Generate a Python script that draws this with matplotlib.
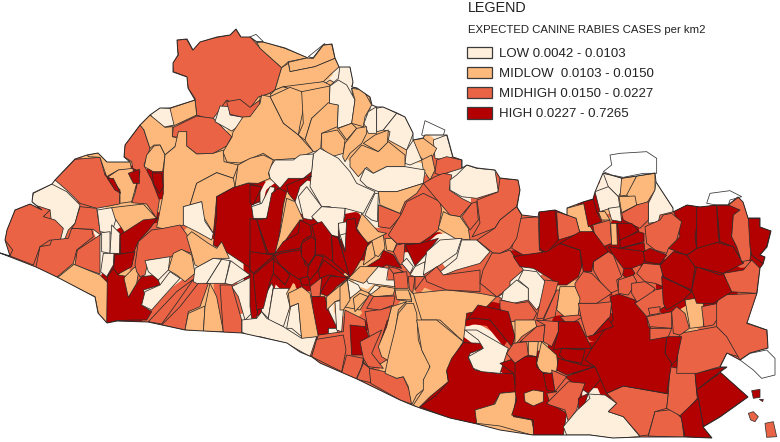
import matplotlib
matplotlib.use("Agg")
import matplotlib.pyplot as plt
from matplotlib.patches import Polygon, Patch

plt.rcParams['font.family'] = ['Liberation Sans', 'DejaVu Sans']

CLASS_COLORS = {"L": "#feefdc", "ML": "#fdb97c", "MH": "#ea6344", "H": "#b30000", "N": "#ffffff"}
CLASS_LABELS = ["LOW 0.0042 - 0.0103", "MIDLOW  0.0103 - 0.0150", "MIDHIGH 0.0150 - 0.0227", "HIGH 0.0227 - 0.7265"]
LEGEND_TITLE = "LEGEND"
LEGEND_SUB = "EXPECTED CANINE RABIES CASES per km2"

COUNTRY_OUTLINE = [(0,253),(10,256),(5,240),(7,230),(15,210),(30,204),(42,210),(32,202),(33,193),(52,184),(55,180),(75,159),(87,155),(98,153),(107,162),(130,162),(124,157),(125,145),(140,125),(150,115),(160,108),(170,108),(195,100),(188,88),(187,77),(173,72),(173,63),(178,55),(177,40),(187,39),(193,50),(200,42),(217,37),(230,35),(236,29),(241,37),(250,37),(257,42),(263,42),(285,48),(308,58),(313,58),(323,45),(332,44),(335,58),(339,67),(350,67),(353,82),(352,87),(357,88),(370,97),(372,105),(377,107),(383,107),(397,113),(405,117),(413,133),(413,140),(423,138),(425,135),(447,135),(453,157),(462,160),(462,168),(467,165),(477,168),(495,170),(500,178),(518,180),(520,190),(517,207),(522,215),(538,217),(539,212),(555,210),(567,215),(567,208),(583,202),(593,199),(595,192),(603,173),(622,178),(637,176),(655,173),(656,182),(673,208),(673,212),(687,205),(700,207),(717,205),(728,205),(738,197),(743,202),(748,218),(760,218),(760,227),(771,231),(767,247),(760,255),(765,257),(763,264),(760,268),(757,293),(747,323),(767,330),(768,348),(750,353),(740,360),(727,353),(720,367),(727,367),(720,372),(748,397),(720,417),(703,427),(712,438),(685,437),(640,437),(613,438),(590,435),(533,435),(500,430),(477,424),(450,418),(420,408),(412,405),(400,400),(357,379),(320,363),(312,357),(300,352),(287,343),(260,337),(242,333),(223,332),(185,330),(162,325),(148,322),(117,321),(107,323),(98,313),(95,297),(57,277),(36,267)]

# municipality outlines, in tracing units (3 per pixel) per map sector
WEST_ORIGIN = (0, 20)
WEST = [
("MH",[(530,60),(560,58),(578,90),(600,65),(650,52),(690,45),(708,28),(722,50),(750,50),(780,84),(845,143),(825,210),(805,222),(775,231),(750,265),(700,250),(680,240),(640,295),(620,295),(590,285),(585,235),(565,205),(560,170),(520,155),(518,128),(535,105)]),
("ML",[(450,285),(510,265),(585,240),(590,285),(520,318),(495,322)]),
("L",[(450,282),(480,263),(510,265),(522,315),(490,322),(465,305)]),
("MH",[(520,322),(590,288),(640,295),(695,350),(680,378),(640,400),(590,402),(560,378),(560,335),(535,352),(517,350)]),
("L",[(660,258),(690,260),(690,285),(730,292),(720,315),(695,333),(645,305)]),
("MH",[(680,245),(720,238),(750,262),(780,240),(780,265),(770,290),(730,292),(690,283)]),
("MH",[(420,315),(375,375),(372,410),(395,425),(398,445),(420,455),(405,520),(395,548),(440,552),(470,595),(478,540),(455,480),(432,435),(450,385),(430,325)]),
("ML",[(420,315),(450,285),(495,322),(517,320),(517,350),(535,355),(525,380),(495,405),(480,375),(462,375),(450,385),(432,330)]),
("ML",[(462,378),(480,375),(495,405),(488,455),(460,455),(433,440),(440,405)]),
("ML",[(535,335),(560,335),(560,378),(590,402),(640,400),(670,390),(672,425),(715,435),(700,475),(650,458),(590,490),(570,555),(550,560),(550,615),(510,630),(470,622),(490,520),(490,460),(495,405),(525,380)]),
("ML",[(590,490),(650,458),(700,475),(705,500),(650,530),(645,590),(640,640),(610,590),(605,545),(570,555)]),
("L",[(550,560),(605,545),(615,605),(640,640),(635,660),(590,635),(550,615)]),
("H",[(650,530),(705,500),(745,490),(780,500),(780,735),(760,750),(685,700),(640,675),(650,590)]),
("L",[(755,555),(780,545),(780,595),(760,590)]),
("MH",[(165,480),(225,418),(300,412),(315,465),(360,520),(358,552),(290,565),(240,550),(200,510)]),
("ML",[(262,405),(295,398),(320,425),(390,425),(395,450),(355,450),(320,470),(300,412),(265,410)]),
("ML",[(355,450),(398,445),(410,490),(395,545),(360,550),(360,510),(325,470)]),
("H",[(322,475),(340,475),(362,520),(345,510)]),
("H",[(385,460),(418,448),(418,490),(400,490)]),
("H",[(457,458),(485,460),(490,500),(478,520),(460,490)]),
("L",[(95,545),(100,520),(155,492),(200,515),(240,555),(225,610),(205,630),(190,668),(175,665),(155,610),(150,570),(125,570)]),
("MH",[(20,630),(45,570),(90,552),(120,560),(150,570),(130,590),(165,600),(190,625),(180,665),(150,660),(120,680),(100,735),(30,708),(38,690),(15,660)]),
("MH",[(108,740),(120,680),(150,675),(155,660),(205,655),(215,625),(275,628),(280,650),(230,690),(220,730),(170,772),(110,745)]),
("MH",[(240,560),(290,565),(302,645),(280,628),(215,625),(225,610)]),
("MH",[(300,645),(300,762),(265,750),(225,735),(232,690)]),
("ML",[(170,775),(222,733),(300,765),(325,790),(350,800),(320,910),(295,880),(285,830)]),
("L",[(292,570),(335,563),(350,590),(335,640),(300,635)]),
("ML",[(335,563),(430,552),(470,595),(420,610),(375,640),(345,595)]),
("L",[(305,638),(330,635),(330,700),(305,695)]),
("L",[(335,615),(360,640),(358,700),(330,700)]),
("L",[(310,700),(342,700),(340,735),(320,770),(302,755)]),
("H",[(360,645),(430,600),(472,595),(450,625),(415,665),(400,700),(362,700)]),
("H",[(345,705),(405,695),(395,740),(350,765),(340,750)]),
("H",[(320,910),(322,770),(340,745),(355,765),(385,770),(385,830),(410,790),(425,770),(470,765),(480,795),(430,810),(435,825),(425,855),(455,875),(440,900),(400,900),(350,902)]),
("ML",[(375,770),(400,745),(420,730),(410,790),(385,832),(372,775)]),
("MH",[(405,735),(415,665),(455,630),(490,625),(540,615),(565,650),(575,700),(545,690),(510,712),(445,720),(435,765),(420,770),(410,755)]),
("L",[(435,722),(510,710),(505,750),(475,780),(445,755)]),
("ML",[(505,750),(520,700),(545,688),(575,705),(585,760),(555,785),(530,765)]),
("L",[(425,855),(435,815),(480,795),(510,755),(540,775),(490,830),(455,870)]),
("ML",[(560,650),(575,635),(625,670),(650,685),(665,665),(688,715),(640,715),(595,740),(585,735),(575,700)]),
("L",[(580,785),(585,745),(640,715),(665,718),(620,790),(600,795)]),
("L",[(620,790),(665,718),(690,722),(675,790),(645,790)]),
("L",[(675,790),(692,722),(750,765),(695,795)]),
("L",[(695,800),(755,770),(765,870),(735,900),(715,830)]),
("MH",[(445,905),(530,815),(580,778),(530,850),(485,912)]),
("MH",[(485,915),(540,860),(595,790),(625,790),(600,860),(565,875),(555,930)]),
("ML",[(555,930),(565,880),(615,858),(610,938)]),
("ML",[(610,938),(615,860),(630,790),(650,830),(670,935)]),
("MH",[(660,795),(695,795),(725,900),(725,940),(670,940)]),
]

NORTH_ORIGIN = (240, 25)
NORTH = [
("ML",[(50,52),(70,50),(135,70),(205,98),(145,110),(125,128),(60,70)]),
("ML",[(145,112),(205,98),(220,100),(250,60),(275,58),(285,100),(225,125),(150,140)]),
("ML",[(125,128),(145,115),(150,140),(225,125),(285,100),(298,125),(270,150),(250,170),(190,185),(130,185),(105,195)]),
("ML",[(255,175),(270,165),(295,180),(270,182)]),
("L",[(270,182),(295,160),(300,122),(330,125),(340,170),(335,185),(350,190),(340,230),(345,270),(270,270),(270,235)]),
("ML",[(335,190),(390,215),(390,270),(345,270)]),
("ML",[(105,195),(130,185),(190,205),(190,240),(185,270),(115,270),(90,210)]),
("ML",[(130,185),(250,170),(270,180),(270,230),(190,270),(190,205)]),
("ML",[(60,215),(90,205),(115,270),(60,270)]),
]

CENTRE_ORIGIN = (250, 80)
CENTRE = [
("ML",[(60,50),(120,22),(155,35),(165,65),(150,135),(145,165),(100,130),(80,90)]),
("ML",[(155,35),(240,18),(238,70),(185,115),(165,180),(145,165),(160,130)]),
("ML",[(165,180),(185,115),(235,68),(265,75),(262,140),(215,160),(212,210),(190,215)]),
("ML",[(0,110),(30,70),(35,45),(60,50),(80,90),(100,130),(145,165),(190,215),(140,235),(70,240),(40,220),(-30,249),(-69,246),(-81,216),(-54,171),(-51,156),(-21,111)]),
("L",[(240,18),(265,0),(290,15),(315,60),(305,130),(262,145),(265,75),(238,70)]),
("ML",[(305,25),(340,30),(365,75),(345,110),(340,140),(305,130),(315,60)]),
("L",[(342,130),(355,95),(380,80),(380,160),(355,160)]),
("L",[(380,85),(400,80),(440,100),(400,150),(380,155)]),
("L",[(440,100),(465,110),(490,160),(470,210),(415,180),(420,155),(400,150)]),
("L",[(550,180),(590,165),(608,230),(590,240),(555,235)]),
("ML",[(490,180),(520,175),(560,205),(545,235),(520,240),(495,215)]),
("L",[(470,210),(490,180),(515,240),(480,255),(465,250)]),
("ML",[(515,240),(545,225),(555,270),(540,300),(520,270)]),
("MH",[(560,240),(590,230),(635,240),(635,265),(570,285),(555,280)]),
("ML",[(215,160),(262,150),(285,180),(280,220),(245,230),(215,205)]),
("ML",[(265,145),(305,130),(320,145),(290,180)]),
("ML",[(285,190),(320,145),(350,140),(350,160),(335,190),(300,220),(285,245),(278,230)]),
("ML",[(340,190),(375,165),(415,150),(412,190),(385,215)]),
("ML",[(300,235),(335,195),(385,215),(415,185),(465,225),(465,260),(410,260),(370,280),(350,262),(325,290),(300,260)]),
("L",[(190,222),(210,205),(265,235),(300,275),(320,310),(375,335),(340,400),(285,385),(285,415),(240,380),(215,380),(180,320),(185,270)]),
("L",[(55,270),(75,240),(130,240),(150,225),(190,222),(185,275),(160,295),(115,295),(90,325),(60,295)]),
("ML",[(-36,255),(0,235),(40,225),(70,240),(55,280),(60,295),(25,310),(-6,309),(-45,321)]),
("L",[(330,300),(345,265),(370,280),(410,260),(465,260),(525,270),(520,310),(440,335),(385,335),(350,320)]),
("H",[(110,315),(160,295),(185,288),(150,320),(135,365),(115,340)]),
("H",[(0,315),(35,320),(10,375),(0,370)]),
("L",[(5,380),(35,370),(60,320),(75,322),(50,415),(10,415)]),
("H",[(85,325),(110,335),(100,375),(85,490),(75,520),(55,520),(20,420),(50,415),(65,340)]),
("H",[(0,415),(20,420),(50,520),(0,520)]),
("ML",[(110,355),(135,365),(160,420),(150,420),(100,490),(90,515),(75,520),(90,460)]),
("L",[(145,350),(170,320),(215,380),(185,420),(160,415)]),
("L",[(185,410),(215,380),(285,385),(280,435),(265,430),(265,470),(240,465)]),
("L",[(265,430),(290,425),(300,455),(270,480)]),
("L",[(270,465),(290,460),(300,455),(292,515),(285,510)]),
("H",[(0,520),(75,525),(60,550),(35,580),(20,715),(5,715),(0,680)]),
("MH",[(180,620),(215,592),(210,650),(185,650)]),
("H",[(210,640),(240,590),(300,590),(260,620),(235,650)]),
("H",[(185,650),(225,650),(235,690),(262,745),(235,745),(235,775),(178,778),(190,720)]),
("L",[(235,745),(262,745),(262,760),(235,775)]),
("L",[(35,665),(65,610),(70,620),(55,715),(35,695)]),
("L",[(55,715),(70,625),(118,625),(110,640),(120,680),(100,740),(55,720)]),
("L",[(110,745),(122,680),(145,670),(155,770),(125,745)]),
("ML",[(115,640),(155,620),(180,640),(205,770),(155,778),(145,670),(120,680)]),
("L",[(-24,720),(20,715),(35,695),(50,715),(100,740),(155,775),(200,770),(180,830),(110,790),(30,770),(0,770),(-24,756)]),
("ML",[(230,650),(290,600),(295,650),(255,665),(230,690)]),
("L",[(255,665),(280,660),(280,690),(275,755),(260,750)]),
("L",[(292,600),(335,630),(295,660)]),
("ML",[(300,655),(320,625),(360,640),(330,690),(280,680)]),
("ML",[(435,630),(480,640),(485,665),(445,660)]),
("MH",[(185,828),(205,765),(280,755),(285,690),(345,720),(350,770),(340,850),(315,890),(275,870)]),
("MH",[(345,695),(395,688),(425,680),(410,740),(390,790),(410,840),(360,870),(340,845),(360,780)]),
("H",[(300,735),(345,740),(360,780),(345,825),(305,825)]),
("H",[(412,720),(428,720),(412,785),(392,785)]),
("ML",[(425,680),(470,665),(445,690),(435,760),(420,820),(420,845),(395,830),(385,800),(410,740)]),
("ML",[(490,640),(590,630),(690,640),(740,650),(700,690),(650,700),(640,785),(570,720),(515,720)]),
("H",[(350,560),(390,535),(400,510),(430,525),(455,565),(410,555),(390,565)]),
("ML",[(340,555),(350,500),(365,485),(375,495),(375,530)]),
("ML",[(365,480),(400,465),(405,505),(385,530),(375,525)]),
("ML",[(320,445),(335,400),(385,455),(410,460),(370,480),(350,490)]),
("MH",[(385,375),(450,400),(455,405),(420,445),(385,440)]),
("ML",[(385,335),(440,335),(520,310),(500,340),(465,365),(450,400),(390,375)]),
("L",[(345,405),(375,340),(385,340),(382,425),(365,420)]),
("ML",[(405,475),(425,475),(440,490),(430,515),(410,510)]),
("MH",[(430,515),(440,495),(465,490),(460,550),(450,555)]),
("MH",[(415,465),(455,400),(470,365),(520,340),(570,365),(575,390),(565,450),(540,470),(510,490),(470,490),(440,490)]),
("MH",[(520,310),(555,290),(580,280),(605,285),(598,330),(635,355),(665,370),(630,410),(600,405),(570,370)]),
("MH",[(635,410),(665,370),(680,365),(685,420),(660,450)]),
("ML",[(580,395),(600,405),(630,410),(655,445),(660,480),(615,475),(565,445)]),
("H",[(465,495),(510,490),(565,475),(530,520),(495,558)]),
("L",[(455,550),(470,535),(490,560),(480,580)]),
("L",[(480,585),(495,560),(525,545),(522,590),(495,590)]),
("L",[(520,585),(530,515),(570,480),(635,475),(620,520),(570,555)]),
("L",[(565,580),(620,535),(635,480),(680,480),(720,515),(690,550),(620,570),(570,590)]),
("L",[(600,300),(620,285),(650,255),(680,265),(735,270),(745,335),(680,355),(635,350),(600,330)]),
("L",[(745,650),(780,625),(780,670)]),
]

CLUSTER_ORIGIN = (250, 210)
CLUSTER = [
("H",[(75,130),(100,95),(145,70),(150,30),(180,45),(185,75),(160,90),(150,115),(90,125)]),
("H",[(90,130),(150,120),(160,140),(165,165),(175,170),(175,205),(150,210),(120,190),(90,165),(75,140)]),
("H",[(70,150),(90,165),(120,195),(105,225),(80,200),(70,190)]),
("H",[(155,100),(185,80),(197,90),(195,135),(175,165),(155,140)]),
("H",[(185,45),(215,35),(245,75),(248,155),(220,135),(197,135),(197,90)]),
("H",[(175,170),(197,135),(220,140),(205,180),(180,210),(172,205)]),
("H",[(205,180),(222,150),(295,205),(235,195),(210,205)]),
("H",[(245,75),(265,85),(300,200),(248,155)]),
("H",[(150,205),(175,200),(180,225),(155,225)]),
("H",[(265,80),(285,125),(290,30),(315,25),(320,60),(355,100),(335,145),(300,205)]),
("H",[(10,195),(45,165),(72,145),(70,190),(60,215),(40,295),(20,300)]),
("H",[(0,125),(72,135),(45,160),(10,190),(0,180)]),
]

CORE_ORIGIN = (340, 230)
CORE = [
("ML",[(25,145),(60,110),(120,110),(115,125),(90,145),(70,160)]),
("L",[(22,148),(55,165),(62,180),(30,205)]),
("L",[(80,150),(115,110),(145,115),(140,150),(165,150),(165,170),(125,165),(85,160)]),
("L",[(85,190),(105,165),(120,170),(100,195)]),
("ML",[(60,190),(85,200),(45,245),(40,205)]),
("ML",[(90,195),(125,168),(165,175),(160,195),(105,200)]),
("MH",[(160,130),(200,125),(205,175),(165,175)]),
("MH",[(145,110),(170,115),(190,125),(160,130)]),
("MH",[(205,140),(225,140),(218,190),(208,178)]),
("MH",[(225,140),(255,140),(225,180)]),
("MH",[(255,140),(290,110),(310,135),(420,120),(420,185),(320,180),(260,155)]),
("ML",[(165,180),(205,180),(215,210),(170,208)]),
("ML",[(0,170),(22,150),(30,210),(10,240),(0,240)]),
("MH",[(80,235),(100,200),(165,198),(160,225),(120,240)]),
]

SOUTH_ORIGIN = (300, 330)
SOUTH = [
("MH",[(35,80),(50,28),(130,15),(138,60),(125,125)]),
("MH",[(125,128),(140,75),(190,85),(185,110),(168,148)]),
("MH",[(170,148),(190,100),(210,115),(212,158)]),
("MH",[(208,115),(255,125),(290,145),(310,140),(330,185),(335,222),(300,210),(212,160)]),
("MH",[(180,35),(245,0),(215,70),(250,115),(205,110),(190,85)]),
("ML",[(255,130),(265,80),(285,0),(295,-50),(320,-80),(340,-80),(350,-50),(355,30),(370,70),(390,100),(385,130),(370,150),(375,175),(350,195),(335,225),(325,170),(310,140),(290,145)]),
("ML",[(350,-30),(410,-30),(490,35),(455,90),(440,125),(445,155),(390,200),(355,235),(340,225),(370,180),(370,150),(390,110),(365,60)]),
("H",[(360,230),(410,195),(445,155),(440,120),(455,85),(490,38),(545,40),(550,55),(510,70),(505,85),(525,120),(590,130),(645,130),(645,165),(650,185),(600,190),(580,225),(530,240),(530,282),(450,265)]),
("L",[(505,80),(550,55),(535,30),(495,0),(530,0),(625,55),(600,130),(545,125),(520,115)]),
("ML",[(525,240),(585,222),(600,190),(650,185),(640,260),(695,270),(705,318),(600,288),(530,280)]),
("H",[(600,100),(630,90),(690,82),(670,160),(645,160),(640,130)]),
]

EAST_ORIGIN = (500, 140)
EAST = [
("L",[(310,100),(335,105),(365,115),(370,145),(355,170),(325,140)]),
("ML",[(365,115),(410,108),(385,165),(360,168)]),
("ML",[(410,108),(465,100),(465,150),(440,190),(410,195),(380,165)]),
("L",[(468,125),(520,205),(520,215),(480,225),(475,245),(445,250),(445,190),(465,150)]),
("L",[(285,155),(325,140),(355,170),(360,205),(330,205),(300,215)]),
("L",[(325,205),(360,200),(365,245),(335,240)]),
("ML",[(357,170),(405,168),(410,195),(365,218)]),
("MH",[(365,220),(410,195),(445,185),(445,240),(420,265),(370,240)]),
("ML",[(295,215),(315,215),(330,240),(305,240)]),
("ML",[(200,205),(255,190),(265,250),(280,275),(240,280),(228,235),(200,225)]),
("H",[(250,185),(280,178),(290,215),(305,245),(265,260)]),
("MH",[(278,255),(330,240),(335,310),(310,320),(285,290)]),
("ML",[(332,250),(350,250),(352,315),(335,315)]),
("H",[(352,250),(395,250),(415,272),(360,305)]),
("H",[(360,300),(415,275),(432,280),(432,305),(360,325)]),
("H",[(360,325),(432,308),(435,335),(380,345),(340,335)]),
("H",[(325,320),(360,325),(435,335),(432,370),(395,385),(370,385),(340,345)]),
("H",[(372,385),(395,385),(405,400),(385,420),(368,405)]),
("MH",[(280,365),(325,335),(340,345),(365,410),(350,420),(355,450),(330,460),(300,425),(280,390)]),
("MH",[(170,215),(200,225),(228,235),(240,280),(175,300)]),
("H",[(118,215),(165,210),(175,300),(140,340),(118,325)]),
("MH",[(60,235),(115,230),(118,330),(135,340),(70,345),(35,325)]),
("MH",[(0,115),(55,120),(60,150),(50,200),(0,240),(-15,264),(-84,291),(-60,249),(-69,180),(-6,156)]),
("MH",[(0,240),(50,200),(65,225),(50,295),(30,325),(0,340),(-21,339),(-69,300),(-15,264)]),
("MH",[(0,340),(30,330),(70,390),(30,425),(30,441),(-9,471),(-60,429),(-51,390),(-24,339)]),
("H",[(40,350),(70,345),(140,335),(180,310),(240,330),(245,380),(235,410),(200,435),(175,435),(150,415),(100,385),(60,380)]),
("H",[(180,310),(240,275),(280,275),(325,335),(280,365),(275,395),(250,395),(240,330)]),
("MH",[(225,430),(250,395),(275,400),(300,425),(335,460),(290,490),(240,490),(225,460)]),
("L",[(5,480),(10,455),(50,420),(85,445),(85,480),(40,490)]),
("L",[(55,420),(70,390),(110,395),(140,430),(130,480),(110,510),(85,480),(85,445)]),
("MH",[(0,480),(50,490),(85,485),(110,520),(100,540),(25,545),(0,505)]),
("MH",[(135,420),(175,425),(165,460),(130,535),(110,535)]),
("MH",[(170,450),(180,450),(165,530),(130,540)]),
("ML",[(170,510),(180,440),(225,440),(240,475),(235,525),(205,540)]),
("MH",[(180,530),(235,525),(250,530),(205,555)]),
("H",[(-99,540),(-66,495),(25,515),(45,590),(35,620),(-30,540),(-81,534)]),
("ML",[(45,540),(105,540),(110,560),(65,590),(45,615)]),
("MH",[(60,605),(110,560),(135,555),(130,605),(85,605)]),
("MH",[(108,540),(175,545),(175,575),(155,620),(130,605),(135,555)]),
("MH",[(20,640),(40,610),(80,605),(85,645),(45,670)]),
("ML",[(85,605),(115,605),(110,650),(85,645)]),
("ML",[(110,670),(125,605),(170,645),(175,690),(150,700),(120,695)]),
("H",[(45,670),(75,650),(110,650),(110,680),(130,700),(170,755),(140,760),(150,790),(200,820),(190,885),(100,885),(100,840),(35,825),(50,780),(45,755)]),
("H",[(130,700),(160,700),(165,755),(140,750)]),
("ML",[(72,760),(100,750),(130,755),(130,785),(100,798),(75,785)]),
("H",[(160,630),(175,575),(175,545),(235,545),(275,625),(225,625),(185,625)]),
("H",[(185,625),(255,630),(245,670),(195,660),(178,645)]),
("H",[(170,690),(175,655),(245,675),(285,680),(200,705)]),
("H",[(195,710),(285,680),(305,715),(265,760),(220,730)]),
("MH",[(155,690),(200,710),(165,755)]),
("MH",[(140,790),(175,755),(205,725),(255,730),(240,770),(230,810),(205,845),(195,810),(150,795)]),
("H",[(235,775),(265,760),(255,790),(265,805),(235,810)]),
("L",[(190,860),(230,812),(270,775),(265,762),(315,765),(350,790),(325,815),(370,830),(420,890),(340,895),(270,885),(200,885)]),
("MH",[(320,760),(370,738),(505,762),(500,805),(465,815),(445,885),(420,888),(370,830),(325,815),(350,790)]),
("MH",[(445,888),(465,815),(520,808),(545,835),(552,892)]),
("MH",[(505,760),(510,680),(585,695),(590,760),(592,775),(545,830),(500,805)]),
("H",[(585,700),(650,685),(680,680),(660,695),(590,750)]),
("H",[(590,750),(665,695),(745,770),(660,830),(610,860),(595,775)]),
("H",[(542,825),(595,775),(610,860),(635,895),(555,890)]),
("MH",[(530,700),(535,610),(540,580),(650,560),(690,595),(735,625),(715,650),(680,640),(660,680),(590,700)]),
("H",[(495,640),(500,590),(545,590),(530,660),(515,675)]),
("H",[(275,625),(320,560),(340,540),(330,470),(355,462),(405,480),(420,500),(440,530),(445,560),(500,590),(495,640),(515,670),(500,760),(370,738),(320,760),(285,680),(255,660)]),
("MH",[(235,490),(290,490),(335,485),(330,530),(280,585),(260,590),(245,540)]),
("H",[(280,585),(325,535),(340,560),(310,570)]),
("MH",[(355,420),(400,405),(410,425),(385,465),(355,460)]),
("MH",[(410,400),(430,370),(485,375),(490,440),(465,430),(435,425)]),
("MH",[(395,430),(435,425),(465,445),(450,470),(410,485),(395,460)]),
("MH",[(405,490),(465,450),(490,445),(495,500),(440,530)]),
("MH",[(445,505),(480,500),(480,520),(450,525)]),
("MH",[(440,530),(515,515),(515,565),(450,560)]),
("MH",[(450,565),(515,565),(505,590),(450,600)]),
("MH",[(515,515),(530,500),(555,520),(568,565),(540,585),(520,580)]),
("ML",[(555,480),(585,475),(610,490),(610,560),(570,565)]),
("MH",[(605,500),(655,490),(660,525),(640,555),(612,560)]),
("MH",[(650,490),(660,465),(770,460),(765,505),(740,550),(800,570),(805,625),(750,640),(720,660),(680,590),(650,560)]),
("MH",[(670,400),(730,390),(755,360),(780,385),(770,460),(690,455)]),
("H",[(485,410),(550,440),(575,455),(550,480),(500,510),(490,490)]),
("H",[(480,375),(520,335),(580,350),(585,380),(575,450),(530,430),(490,410)]),
("H",[(430,335),(450,325),(500,345),(480,372),(435,365)]),
("H",[(575,450),(590,380),(660,405),(670,400),(695,455),(640,490),(590,490)]),
("H",[(560,345),(590,325),(640,305),(700,320),(730,370),(670,400),(585,380)]),
("H",[(505,325),(540,290),(530,240),(520,210),(560,195),(600,200),(585,290),(590,325),(560,345)]),
("H",[(590,200),(650,195),(655,290),(660,305),(590,325)]),
("H",[(650,195),(700,195),(720,210),(700,225),(695,290),(725,340),(730,370),(700,320),(660,305)]),
("MH",[(685,195),(715,172),(730,185),(745,235),(760,265),(755,310),(750,360),(725,365),(710,320),(695,290),(700,225),(720,210)]),
("H",[(745,235),(780,235),(780,260),(812,272),(800,320),(780,345),(795,350),(790,372),(755,345),(750,320)]),
("MH",[(435,260),(480,240),(490,225),(515,220),(545,245),(530,300),(505,325),(500,340),(465,330),(440,310)]),
]

# shapes that lie outside the mainland outline: uncoloured units and islands
OFFSHORE = [
(NORTH_ORIGIN, "N", [(25,38),(48,28),(70,50),(50,50)]),
(NORTH_ORIGIN, "N", [(205,95),(255,55),(245,70),(225,100)]),
(CENTRE_ORIGIN, "N", [(515,165),(525,122),(585,150),(580,165),(550,180)]),
(EAST_ORIGIN, "N", [(310,95),(335,75),(330,45),(360,40),(440,35),(470,55),(470,100),(430,100),(370,112),(335,105)]),
(EAST_ORIGIN, "N", [(620,190),(630,160),(690,152),(725,170),(690,180),(685,195),(650,195)]),
(EAST_ORIGIN, "N", [(720,660),(750,640),(800,630),(825,655),(825,705),(785,715),(760,690)]),
(EAST_ORIGIN, "H", [(755,752),(780,748),(780,772),(760,775)]),
(EAST_ORIGIN, "H", [(778,778),(790,778),(788,785)]),
(EAST_ORIGIN, "MH", [(745,820),(760,815),(775,830),(765,845),(752,840)]),
(EAST_ORIGIN, "MH", [(795,850),(820,845),(830,890),(800,892)]),
]

TRACE_UNITS = 3.0
SECTORS = [(WEST_ORIGIN, WEST), (NORTH_ORIGIN, NORTH), (CENTRE_ORIGIN, CENTRE), (CLUSTER_ORIGIN, CLUSTER),
           (CORE_ORIGIN, CORE), (SOUTH_ORIGIN, SOUTH), (EAST_ORIGIN, EAST)]
EDGE = "#2b2b2b"
EDGE_WIDTH = 0.55

def to_px(origin, pts):
    return [(origin[0] + x / TRACE_UNITS, origin[1] + y / TRACE_UNITS) for x, y in pts]

fig = plt.figure(figsize=(7.8, 4.42), dpi=100)
ax = fig.add_axes([0, 0, 1, 1])
ax.set_xlim(0, 780)
ax.set_ylim(442, 0)
ax.axis("off")

land = Polygon(COUNTRY_OUTLINE, closed=True, facecolor="#ea6344", edgecolor="none", zorder=1)
ax.add_patch(land)

for origin, cls, pts in OFFSHORE:
    ax.add_patch(Polygon(to_px(origin, pts), closed=True, facecolor=CLASS_COLORS[cls],
                         edgecolor="#333333", linewidth=EDGE_WIDTH, zorder=1))

# first pass closes the seams between neighbouring traced units
for origin, shapes in SECTORS:
    for cls, pts in shapes:
        p = Polygon(to_px(origin, pts), closed=True, facecolor=CLASS_COLORS[cls],
                    edgecolor=CLASS_COLORS[cls], linewidth=9, joinstyle="round", zorder=2)
        ax.add_patch(p)
        p.set_clip_path(land)

for origin, shapes in SECTORS:
    for cls, pts in shapes:
        p = Polygon(to_px(origin, pts), closed=True, facecolor=CLASS_COLORS[cls],
                    edgecolor=EDGE, linewidth=EDGE_WIDTH, joinstyle="round", zorder=3)
        ax.add_patch(p)
        p.set_clip_path(land)

ax.add_patch(Polygon(COUNTRY_OUTLINE, closed=True, facecolor="none", edgecolor=EDGE, linewidth=0.7, zorder=4))

ax.text(468, 7.5, LEGEND_TITLE, fontsize=10.4, color="#222222", va="center", ha="left")
ax.text(468, 30, LEGEND_SUB, fontsize=8.2, color="#222222", va="center", ha="left")
handles = [Patch(facecolor=CLASS_COLORS[c], edgecolor="#3a3a3a", linewidth=0.9) for c in ["L", "ML", "MH", "H"]]
ax.legend(handles, CLASS_LABELS, loc="upper left", bbox_to_anchor=(464.5 / 780, 1 - 44 / 442),
          frameon=False, fontsize=9.5, handlelength=1.9, handleheight=1.0,
          labelspacing=0.5, handletextpad=0.5, borderpad=0.2, borderaxespad=0, labelcolor="#222222")

fig.savefig("out.png", dpi=100)
